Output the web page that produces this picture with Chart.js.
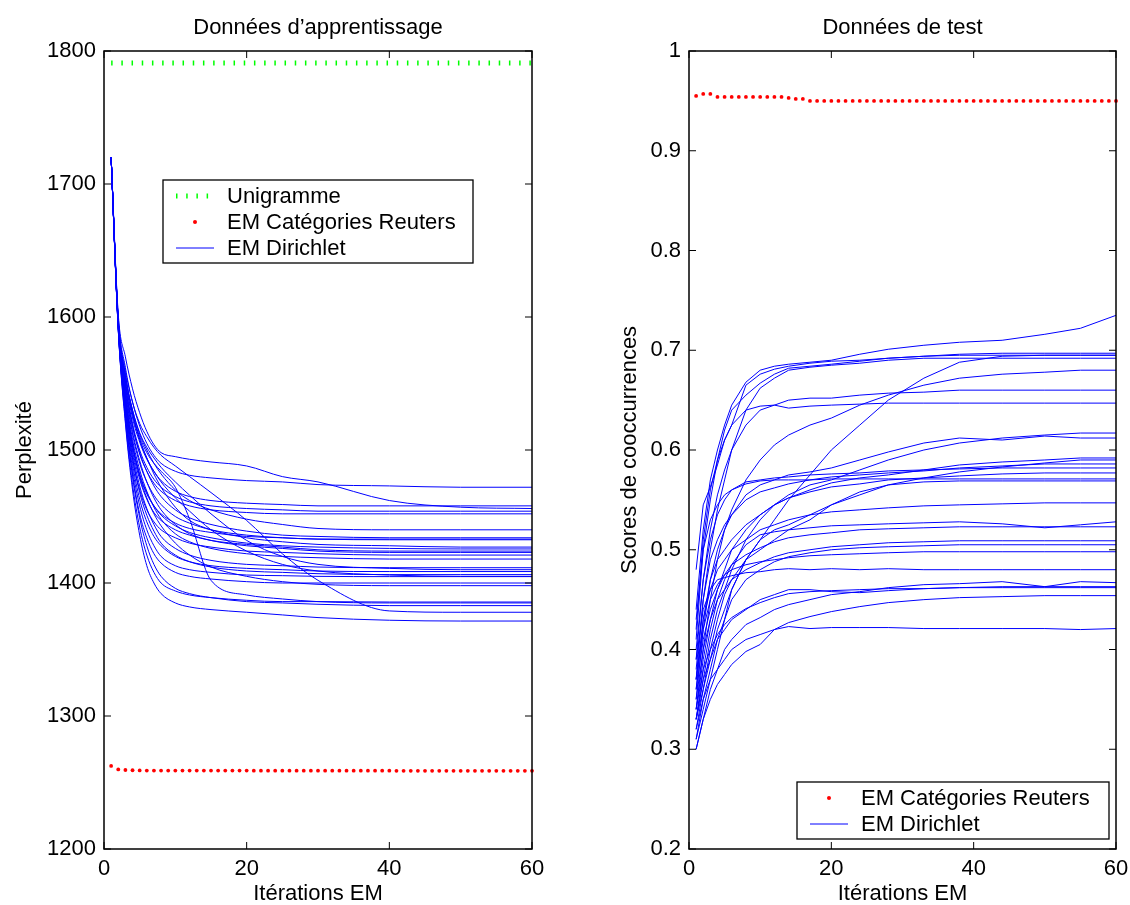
<!DOCTYPE html>
<html lang="fr">
<head>
<meta charset="utf-8">
<title>Données d'apprentissage / Données de test</title>
<script src="https://cdn.jsdelivr.net/npm/chart.js@4.4.1/dist/chart.umd.min.js"></script>
<style>
  html, body { margin: 0; padding: 0; background: #fff; }
  #wrap { position: relative; width: 1130px; height: 905px; }
  .panel { position: absolute; top: 0; width: 565px; height: 905px; }
  #trainPanel { left: 0; }
  #testPanel { left: 565px; }
</style>
</head>
<body>
<div id="wrap">
  <div class="panel" id="trainPanel"><canvas id="trainChart" width="565" height="905"></canvas></div>
  <div class="panel" id="testPanel"><canvas id="testChart" width="565" height="905"></canvas></div>
</div>
<script>
// ---- data ----
const xTicks = [0, 20, 40, 60];
const trainYTicks = [1200, 1300, 1400, 1500, 1600, 1700, 1800];
const testYTicks = [0.2, 0.3, 0.4, 0.5, 0.6, 0.7, 0.8, 0.9, 1];

// EM iterations 1..60 (one red dot per iteration)
const allIters = Array.from({ length: 60 }, (_, i) => i + 1);

// Unigram perplexity (flat)
const unigramValue = 1791;

// EM with Reuters categories, training perplexity
const trainReuters = [
  1262.5, 1259.8, 1259.4, 1259.2, 1259.1, 1259.0, 1259.0, 1259.0, 1259.0, 1259.0,
  1259.0, 1259.0, 1259.0, 1259.0, 1259.0, 1259.0, 1259.0, 1259.0, 1259.0, 1259.0,
  1258.9, 1258.9, 1258.9, 1258.9, 1258.9, 1258.9, 1258.9, 1258.9, 1258.9, 1258.9,
  1258.9, 1258.9, 1258.9, 1258.9, 1258.9, 1258.9, 1258.9, 1258.9, 1258.9, 1258.9,
  1258.8, 1258.8, 1258.8, 1258.8, 1258.8, 1258.8, 1258.8, 1258.8, 1258.8, 1258.8,
  1258.8, 1258.8, 1258.8, 1258.8, 1258.8, 1258.8, 1258.8, 1258.8, 1258.8, 1258.8
];

// EM with Reuters categories, test co-occurrence score
const testReuters = [
  0.955, 0.957, 0.957, 0.954, 0.954, 0.954, 0.954, 0.954, 0.954, 0.954,
  0.954, 0.954, 0.954, 0.953, 0.952, 0.952, 0.950, 0.950, 0.950, 0.950,
  0.950, 0.950, 0.950, 0.950, 0.950, 0.950, 0.950, 0.950, 0.950, 0.950,
  0.950, 0.950, 0.950, 0.950, 0.950, 0.950, 0.950, 0.950, 0.950, 0.950,
  0.950, 0.950, 0.950, 0.950, 0.950, 0.950, 0.950, 0.950, 0.950, 0.950,
  0.950, 0.950, 0.950, 0.950, 0.950, 0.950, 0.950, 0.950, 0.950, 0.950
];

// EM Dirichlet runs, training perplexity, sampled at these iterations
const trainIters = [1, 2, 3, 4, 5, 6, 7, 8, 10, 12, 15, 20, 25, 30, 40, 50, 60];
const trainDirichlet = [
  [1720, 1602, 1570, 1546, 1528, 1514, 1504, 1498, 1495, 1493, 1491, 1488, 1480, 1476, 1462, 1457, 1456],
  [1720, 1600, 1562, 1536, 1518, 1505, 1496, 1490, 1484, 1481, 1479, 1477, 1476, 1474, 1473, 1472, 1472],
  [1720, 1597, 1556, 1528, 1508, 1494, 1484, 1477, 1469, 1465, 1462, 1460, 1459, 1458, 1458, 1458, 1458],
  [1720, 1596, 1550, 1520, 1500, 1487, 1478, 1472, 1465, 1461, 1458, 1456, 1455, 1454, 1454, 1454, 1454],
  [1720, 1595, 1548, 1518, 1497, 1484, 1475, 1469, 1462, 1458, 1455, 1453, 1452, 1452, 1452, 1452, 1452],
  [1720, 1597, 1555, 1530, 1512, 1500, 1490, 1482, 1470, 1462, 1455, 1448, 1444, 1441, 1440, 1440, 1440],
  [1720, 1596, 1548, 1518, 1498, 1484, 1473, 1465, 1455, 1449, 1444, 1439, 1436, 1435, 1434, 1434, 1434],
  [1720, 1594, 1544, 1512, 1490, 1476, 1466, 1459, 1450, 1445, 1440, 1436, 1434, 1433, 1432.5, 1432.5, 1432.5],
  [1720, 1593, 1538, 1503, 1481, 1467, 1458, 1452, 1445, 1441, 1438, 1435, 1434, 1433, 1433, 1433, 1433],
  [1720, 1596, 1552, 1526, 1508, 1494, 1482, 1472, 1457, 1447, 1440, 1434, 1431, 1429, 1428, 1427, 1427],
  [1720, 1594, 1540, 1505, 1482, 1468, 1458, 1451, 1443, 1438, 1434, 1430, 1428, 1427, 1426, 1425.6, 1425.6],
  [1720, 1595, 1546, 1514, 1492, 1476, 1464, 1455, 1444, 1437, 1432, 1428, 1426, 1424, 1423, 1423, 1423],
  [1720, 1593, 1536, 1500, 1478, 1463, 1453, 1447, 1440, 1436, 1432, 1429, 1427, 1425, 1424, 1424, 1424],
  [1720, 1592, 1532, 1494, 1470, 1455, 1446, 1440, 1434, 1430, 1427, 1424, 1423, 1422, 1421, 1421, 1421],
  [1720, 1594, 1542, 1508, 1485, 1469, 1457, 1448, 1437, 1431, 1426, 1422, 1420, 1419, 1418, 1418, 1418],
  [1720, 1593, 1536, 1498, 1473, 1456, 1444, 1435, 1426, 1421, 1417, 1414, 1413, 1412, 1411.5, 1411.5, 1411.5],
  [1720, 1597, 1556, 1530, 1513, 1502, 1494, 1487, 1476, 1466, 1452, 1432, 1420, 1414, 1411, 1410, 1410],
  [1720, 1592, 1530, 1490, 1463, 1446, 1435, 1428, 1420, 1416, 1413, 1411, 1410, 1409, 1408.6, 1408.6, 1408.6],
  [1720, 1593, 1534, 1494, 1468, 1451, 1439, 1430, 1421, 1416, 1412, 1409, 1408, 1407, 1406.3, 1406.3, 1406.3],
  [1720, 1591, 1528, 1486, 1458, 1440, 1428, 1420, 1413, 1410, 1408, 1406, 1405.5, 1405, 1404.8, 1404.8, 1404.8],
  [1720, 1594, 1540, 1504, 1480, 1464, 1452, 1443, 1430, 1421, 1412, 1405, 1401, 1399, 1398, 1398, 1398],
  [1720, 1590, 1522, 1474, 1442, 1421, 1408, 1400, 1394, 1391, 1389, 1387, 1386, 1386, 1385.7, 1385.7, 1385.7],
  [1720, 1591, 1526, 1480, 1449, 1428, 1414, 1405, 1396, 1392, 1389, 1386, 1385, 1384, 1383, 1383, 1383],
  [1720, 1597, 1556, 1528, 1510, 1498, 1490, 1484, 1472, 1448, 1402, 1391, 1388, 1386, 1385, 1385, 1385],
  [1720, 1598, 1560, 1536, 1520, 1510, 1502, 1496, 1488, 1480, 1468, 1447, 1422, 1402, 1379, 1378, 1378],
  [1720, 1590, 1520, 1470, 1436, 1413, 1400, 1392, 1385, 1382, 1380, 1378, 1376, 1374, 1372, 1371.4, 1371.4],
  [1720, 1591, 1526, 1482, 1452, 1434, 1422, 1415, 1408, 1405, 1403, 1401, 1400, 1400, 1400, 1400, 1400],
  [1720, 1596, 1552, 1524, 1506, 1493, 1484, 1476, 1464, 1454, 1440, 1424, 1414, 1409, 1406, 1405, 1405]
];

// EM Dirichlet runs, test co-occurrence score, sampled at these iterations
const testIters = [1, 2, 3, 4, 5, 6, 8, 10, 12, 14, 17, 20, 24, 28, 33, 38, 44, 50, 55, 60];
const testDirichlet = [
  [0.44, 0.52, 0.57, 0.60, 0.625, 0.645, 0.668, 0.680, 0.684, 0.686, 0.688, 0.690, 0.696, 0.701, 0.705, 0.708, 0.710, 0.716, 0.722, 0.735],
  [0.48, 0.545, 0.563, 0.585, 0.610, 0.625, 0.665, 0.676, 0.681, 0.684, 0.687, 0.689, 0.690, 0.692, 0.694, 0.696, 0.697, 0.697, 0.697, 0.697],
  [0.41, 0.50, 0.55, 0.59, 0.62, 0.64, 0.655, 0.667, 0.676, 0.682, 0.684, 0.686, 0.689, 0.692, 0.694, 0.695, 0.695, 0.695, 0.695, 0.695],
  [0.37, 0.45, 0.50, 0.54, 0.57, 0.60, 0.64, 0.662, 0.672, 0.680, 0.683, 0.685, 0.687, 0.690, 0.692, 0.692, 0.692, 0.692, 0.692, 0.692],
  [0.34, 0.40, 0.45, 0.49, 0.52, 0.54, 0.57, 0.59, 0.605, 0.615, 0.625, 0.632, 0.645, 0.655, 0.665, 0.672, 0.676, 0.678, 0.680, 0.680],
  [0.33, 0.36, 0.39, 0.42, 0.44, 0.46, 0.49, 0.51, 0.53, 0.55, 0.575, 0.600, 0.625, 0.650, 0.672, 0.688, 0.694, 0.695, 0.695, 0.695],
  [0.39, 0.47, 0.52, 0.555, 0.58, 0.60, 0.625, 0.64, 0.645, 0.650, 0.652, 0.652, 0.655, 0.657, 0.658, 0.660, 0.660, 0.660, 0.660, 0.660],
  [0.42, 0.51, 0.56, 0.59, 0.61, 0.625, 0.64, 0.644, 0.645, 0.642, 0.644, 0.645, 0.646, 0.647, 0.647, 0.647, 0.647, 0.647, 0.647, 0.647],
  [0.33, 0.37, 0.41, 0.44, 0.46, 0.48, 0.51, 0.53, 0.545, 0.555, 0.565, 0.570, 0.580, 0.590, 0.600, 0.607, 0.612, 0.615, 0.617, 0.617],
  [0.35, 0.42, 0.47, 0.50, 0.52, 0.535, 0.555, 0.565, 0.570, 0.575, 0.578, 0.582, 0.590, 0.598, 0.607, 0.612, 0.610, 0.614, 0.612, 0.612],
  [0.36, 0.43, 0.47, 0.49, 0.50, 0.51, 0.525, 0.535, 0.545, 0.552, 0.560, 0.567, 0.572, 0.575, 0.580, 0.585, 0.588, 0.590, 0.592, 0.592],
  [0.31, 0.34, 0.37, 0.40, 0.43, 0.46, 0.49, 0.51, 0.52, 0.525, 0.535, 0.545, 0.555, 0.565, 0.572, 0.578, 0.583, 0.587, 0.590, 0.590],
  [0.38, 0.45, 0.49, 0.51, 0.525, 0.535, 0.550, 0.558, 0.562, 0.566, 0.570, 0.573, 0.575, 0.577, 0.579, 0.582, 0.584, 0.586, 0.586, 0.586],
  [0.40, 0.47, 0.51, 0.535, 0.55, 0.56, 0.568, 0.570, 0.572, 0.573, 0.575, 0.576, 0.577, 0.579, 0.580, 0.581, 0.582, 0.582, 0.582, 0.582],
  [0.34, 0.39, 0.43, 0.46, 0.48, 0.50, 0.52, 0.535, 0.545, 0.552, 0.558, 0.563, 0.566, 0.570, 0.572, 0.574, 0.576, 0.577, 0.577, 0.577],
  [0.43, 0.50, 0.53, 0.545, 0.555, 0.56, 0.566, 0.569, 0.570, 0.570, 0.570, 0.571, 0.571, 0.571, 0.571, 0.571, 0.571, 0.571, 0.571, 0.571],
  [0.32, 0.36, 0.40, 0.43, 0.455, 0.47, 0.49, 0.50, 0.51, 0.52, 0.53, 0.545, 0.558, 0.565, 0.568, 0.569, 0.569, 0.569, 0.569, 0.569],
  [0.37, 0.43, 0.46, 0.48, 0.49, 0.50, 0.51, 0.52, 0.525, 0.530, 0.535, 0.538, 0.540, 0.542, 0.544, 0.545, 0.546, 0.547, 0.547, 0.547],
  [0.33, 0.38, 0.42, 0.45, 0.47, 0.485, 0.505, 0.515, 0.518, 0.520, 0.522, 0.524, 0.525, 0.526, 0.527, 0.528, 0.526, 0.522, 0.525, 0.528],
  [0.36, 0.41, 0.44, 0.46, 0.475, 0.485, 0.495, 0.502, 0.508, 0.512, 0.515, 0.517, 0.520, 0.521, 0.522, 0.523, 0.523, 0.523, 0.523, 0.523],
  [0.35, 0.40, 0.43, 0.45, 0.46, 0.47, 0.48, 0.487, 0.493, 0.497, 0.500, 0.503, 0.505, 0.507, 0.508, 0.509, 0.509, 0.509, 0.509, 0.509],
  [0.31, 0.35, 0.38, 0.41, 0.43, 0.45, 0.47, 0.48, 0.488, 0.493, 0.497, 0.500, 0.502, 0.503, 0.504, 0.505, 0.505, 0.505, 0.505, 0.505],
  [0.37, 0.42, 0.45, 0.465, 0.475, 0.48, 0.485, 0.488, 0.490, 0.492, 0.494, 0.495, 0.496, 0.497, 0.498, 0.498, 0.498, 0.498, 0.498, 0.498],
  [0.39, 0.44, 0.46, 0.47, 0.472, 0.474, 0.477, 0.478, 0.480, 0.481, 0.480, 0.481, 0.480, 0.481, 0.480, 0.480, 0.480, 0.480, 0.480, 0.480],
  [0.30, 0.33, 0.36, 0.38, 0.40, 0.41, 0.425, 0.432, 0.440, 0.445, 0.450, 0.455, 0.458, 0.462, 0.465, 0.466, 0.468, 0.463, 0.468, 0.467],
  [0.33, 0.37, 0.39, 0.41, 0.42, 0.43, 0.44, 0.450, 0.455, 0.460, 0.460, 0.458, 0.457, 0.459, 0.461, 0.462, 0.463, 0.463, 0.463, 0.463],
  [0.34, 0.38, 0.40, 0.415, 0.425, 0.432, 0.441, 0.447, 0.452, 0.456, 0.458, 0.459, 0.460, 0.461, 0.461, 0.462, 0.462, 0.462, 0.462, 0.462],
  [0.32, 0.35, 0.37, 0.38, 0.39, 0.40, 0.41, 0.415, 0.420, 0.427, 0.433, 0.438, 0.443, 0.447, 0.450, 0.452, 0.453, 0.454, 0.454, 0.454],
  [0.30, 0.33, 0.35, 0.365, 0.375, 0.385, 0.398, 0.405, 0.420, 0.423, 0.421, 0.422, 0.422, 0.422, 0.421, 0.421, 0.421, 0.421, 0.420, 0.421]
];

// ---- styling ----
const BLUE = "#0000ff";
const RED = "#ff0000";
const GREEN = "#00ff00";
const FONT = '"Liberation Sans", Arial, Helvetica, sans-serif';
const FONT_SIZE = 22;

Chart.defaults.font.family = FONT;
Chart.defaults.font.size = FONT_SIZE;
Chart.defaults.color = "#000";

const toPoints = (xs, ys) => xs.map((x, i) => ({ x, y: ys[i] }));

// Title over the plot area, box, inward ticks on all four sides, boxed legend
const framePlugin = {
  id: "frame",
  afterDatasetsDraw(chart, args, opts) {
    const { ctx, chartArea: a, scales } = chart;
    const tick = 7;
    ctx.save();

    ctx.fillStyle = "#000";
    ctx.font = `${FONT_SIZE}px ${FONT}`;
    ctx.textAlign = "center";
    ctx.textBaseline = "alphabetic";
    ctx.fillText(opts.title, (a.left + a.right) / 2, 33.5);

    ctx.strokeStyle = "#000";
    ctx.lineWidth = 1;
    ctx.beginPath();
    scales.x.ticks.forEach((t) => {
      const px = scales.x.getPixelForValue(t.value);
      ctx.moveTo(px, a.bottom);
      ctx.lineTo(px, a.bottom - tick);
      ctx.moveTo(px, a.top);
      ctx.lineTo(px, a.top + tick);
    });
    scales.y.ticks.forEach((t) => {
      const py = scales.y.getPixelForValue(t.value);
      ctx.moveTo(a.left, py);
      ctx.lineTo(a.left + tick, py);
      ctx.moveTo(a.right, py);
      ctx.lineTo(a.right - tick, py);
    });
    ctx.stroke();
    ctx.lineWidth = 1.5;
    ctx.strokeRect(a.left, a.top, a.right - a.left, a.bottom - a.top);

    // legend
    const lg = opts.legend;
    if (lg) {
      ctx.fillStyle = "#fff";
      ctx.fillRect(lg.x, lg.y, lg.w, lg.h);
      ctx.lineWidth = 1.3;
      ctx.strokeStyle = "#000";
      ctx.strokeRect(lg.x, lg.y, lg.w, lg.h);
      ctx.textBaseline = "middle";
      ctx.textAlign = "left";
      lg.items.forEach((item, i) => {
        const cy = lg.y + lg.rowTop + i * lg.rowGap;
        if (item.kind === "dotted") {
          ctx.save();
          ctx.strokeStyle = GREEN;
          ctx.lineWidth = 5;
          ctx.lineCap = "butt";
          ctx.setLineDash([1.5, 8.7]);
          ctx.beginPath();
          ctx.moveTo(lg.x + 13, cy);
          ctx.lineTo(lg.x + 46, cy);
          ctx.stroke();
          ctx.restore();
        } else if (item.kind === "dot") {
          ctx.fillStyle = RED;
          ctx.beginPath();
          ctx.arc(lg.x + 32, cy, 2, 0, Math.PI * 2);
          ctx.fill();
        } else {
          ctx.strokeStyle = BLUE;
          ctx.lineWidth = 1;
          ctx.beginPath();
          ctx.moveTo(lg.x + 13, cy);
          ctx.lineTo(lg.x + 51, cy);
          ctx.stroke();
        }
        ctx.fillStyle = "#000";
        ctx.fillText(item.label, lg.x + 64, cy + 1);
      });
    }
    ctx.restore();
  }
};

function makeOptions({ title, yTitle, yMin, yMax, yTicks, yWidth, yTitlePad, rightPad, legend }) {
  return {
    responsive: false,
    animation: false,
    layout: { padding: { left: 0, right: rightPad, top: 51, bottom: 0 } },
    plugins: {
      legend: { display: false },
      tooltip: { enabled: false },
      title: { display: false },
      frame: { title, legend }
    },
    scales: {
      x: {
        type: "linear",
        min: 0,
        max: 60,
        grid: { display: false, drawTicks: false },
        border: { display: false },
        afterBuildTicks: (scale) => {
          scale.ticks = xTicks.map((v) => ({ value: v }));
        },
        afterFit: (scale) => {
          scale.height = 56;
          scale.paddingLeft = 0;
          scale.paddingRight = 0;
        },
        ticks: { padding: 7, color: "#000", maxRotation: 0, callback: (v) => String(v) },
        title: {
          display: true,
          text: "Itérations EM",
          color: "#000",
          font: { size: FONT_SIZE, lineHeight: 1 },
          padding: { top: 0, bottom: 0 }
        }
      },
      y: {
        type: "linear",
        min: yMin,
        max: yMax,
        grid: { display: false, drawTicks: false },
        border: { display: false },
        afterBuildTicks: (scale) => {
          scale.ticks = yTicks.map((v) => ({ value: v }));
        },
        afterFit: (scale) => {
          scale.width = yWidth;
          scale.paddingTop = 0;
          scale.paddingBottom = 0;
        },
        ticks: { padding: 8, color: "#000", callback: (v) => String(v) },
        title: {
          display: true,
          text: yTitle,
          color: "#000",
          font: { size: FONT_SIZE, lineHeight: 1 },
          padding: { top: yTitlePad, bottom: 0 }
        }
      }
    }
  };
}

const dirichletStyle = {
  borderColor: BLUE,
  borderWidth: 1,
  pointRadius: 0,
  fill: false
};

// ---- left: training perplexity ----
new Chart(document.getElementById("trainChart"), {
  type: "line",
  data: {
    datasets: [
      {
        label: "Unigramme",
        data: [{ x: 1, y: unigramValue }, { x: 60, y: unigramValue }],
        borderColor: GREEN,
        borderWidth: 5,
        borderDash: [1.5, 8.7],
        borderCapStyle: "butt",
        pointRadius: 0,
        clip: false
      },
      {
        label: "EM Catégories Reuters",
        data: toPoints(allIters, trainReuters),
        showLine: false,
        pointRadius: 1.9,
        pointBorderWidth: 0,
        pointBackgroundColor: RED,
        clip: false
      },
      ...trainDirichlet.map((run, i) => ({
        ...dirichletStyle,
        label: i === 0 ? "EM Dirichlet" : "",
        data: toPoints(trainIters, run),
        cubicInterpolationMode: "monotone"
      }))
    ]
  },
  options: makeOptions({
    title: "Données d’apprentissage",
    yTitle: "Perplexité",
    yMin: 1200,
    yMax: 1800,
    yTicks: trainYTicks,
    yWidth: 104,
    yTitlePad: 14,
    rightPad: 33,
    legend: {
      x: 163, y: 180, w: 310, h: 83, rowTop: 16, rowGap: 26,
      items: [
        { kind: "dotted", label: "Unigramme" },
        { kind: "dot", label: "EM Catégories Reuters" },
        { kind: "line", label: "EM Dirichlet" }
      ]
    }
  }),
  plugins: [framePlugin]
});

// ---- right: test co-occurrence scores ----
new Chart(document.getElementById("testChart"), {
  type: "line",
  data: {
    datasets: [
      {
        label: "EM Catégories Reuters",
        data: toPoints(allIters, testReuters),
        showLine: false,
        pointRadius: 1.9,
        pointBorderWidth: 0,
        pointBackgroundColor: RED,
        clip: false
      },
      ...testDirichlet.map((run, i) => ({
        ...dirichletStyle,
        label: i === 0 ? "EM Dirichlet" : "",
        data: toPoints(testIters, run),
        tension: 0
      }))
    ]
  },
  options: makeOptions({
    title: "Données de test",
    yTitle: "Scores de cooccurrences",
    yMin: 0.2,
    yMax: 1,
    yTicks: testYTicks,
    yWidth: 124,
    yTitlePad: 54,
    rightPad: 14,
    legend: {
      x: 232, y: 782, w: 312, h: 57, rowTop: 16, rowGap: 26,
      items: [
        { kind: "dot", label: "EM Catégories Reuters" },
        { kind: "line", label: "EM Dirichlet" }
      ]
    }
  }),
  plugins: [framePlugin]
});
</script>
</body>
</html>
